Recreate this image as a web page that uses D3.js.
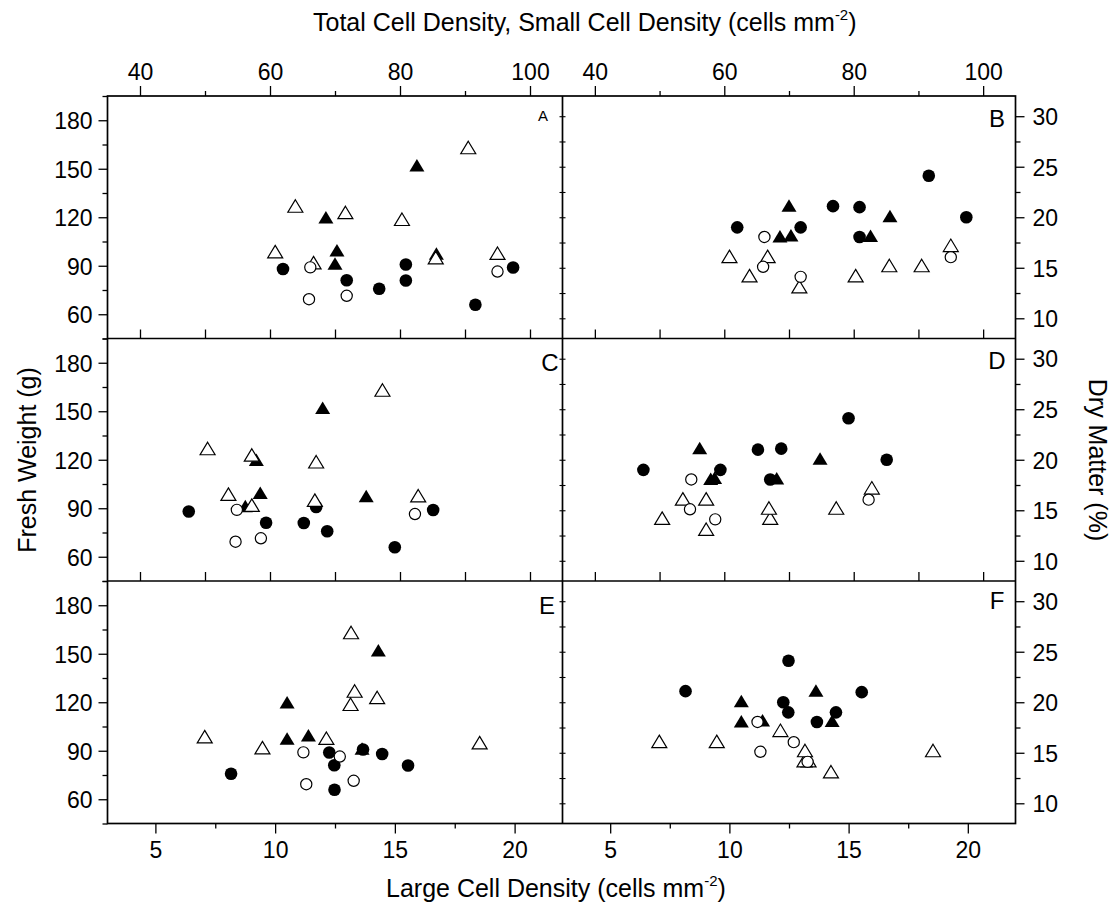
<!DOCTYPE html>
<html>
<head>
<meta charset="utf-8">
<script src="https://cdn.jsdelivr.net/npm/d3@7"></script>
<style>
  html, body { margin: 0; padding: 0; background: #fff; }
  svg { display: block; }
  text { font-family: "Liberation Sans", Arial, Helvetica, sans-serif; fill: #000; }
</style>
</head>
<body>
<svg id="chart" width="1117" height="908"></svg>
<script>
// ---- data: one entry per plant sample ----
// marker group: fc = filled circle, ft = filled triangle, oc = open circle, ot = open triangle
const group = ["fc","fc","fc","fc","fc","fc","fc",
               "ft","ft","ft","ft","ft",
               "oc","oc","oc","oc",
               "ot","ot","ot","ot","ot","ot","ot","ot"];
// total cell density (cells mm^-2)
const totalDensity = [62.0, 71.8, 76.8, 80.9, 80.9, 91.6, 97.4,
                      68.6, 70.3, 70.0, 82.6, 85.6,
                      66.2, 66.0, 71.8, 95.0,
                      60.8, 63.9, 66.7, 71.6, 80.3, 85.5, 90.5, 95.0];
// small cell density (cells mm^-2)
const smallDensity = [47.5, 59.4, 68.8, 65.2, 67.1, 79.2, 85.1,
                      57.9, 58.5, 56.2, 68.1, 74.8,
                      54.9, 54.7, 58.6, 82.3,
                      53.6, 50.4, 57.2, 57.2, 67.1, 66.9, 77.3, 82.8];
// large cell density (cells mm^-2)
const largeDensity = [14.47, 12.47, 8.16, 15.55, 13.67, 12.48, 12.26,
                      10.5, 11.39, 13.63, 14.31, 10.5,
                      11.18, 11.3, 13.28, 12.7,
                      7.06, 13.32, 9.47, 14.26, 13.15, 18.54, 13.17, 12.14];
// fresh weight (g)
const freshWeight = [88.0, 81.0, 75.8, 80.9, 90.8, 65.9, 88.9,
                     119.8, 99.5, 91.2, 152.0, 97.4,
                     89.0, 69.3, 71.4, 86.4,
                     98.6, 126.8, 91.8, 122.8, 118.6, 94.9, 163.0, 97.6];
// dry matter (%)
const dryMatter = [19.0, 19.0, 21.1, 21.0, 18.05, 24.1, 20.0,
                   18.1, 18.2, 21.15, 18.15, 20.1,
                   18.05, 15.1, 14.1, 16.05,
                   16.1, 14.2, 16.1, 13.1, 14.2, 15.2, 15.2, 17.2];

// ---- tick values ----
const fwTicks = [60, 90, 120, 150, 180];
const fwMinor = [45, 75, 105, 135, 165, 195];
const dmTicks = [10, 15, 20, 25, 30];
const dmMinor = [12.5, 17.5, 22.5, 27.5];
const densTicks = [40, 60, 80, 100];
const densMinor = [50, 70, 90];
const densInner = [40, 50, 60, 70, 80, 90, 100];
const largeTicks = [5, 10, 15, 20];
const largeMinor = [7.5, 12.5, 17.5];

// ---- layout ----
const colX = [107.5, 562.5, 1015.5];
const rowY = [96, 338.5, 581, 823.5];
const font = 23;
const titleFont = 25;

const svg = d3.select("#chart");

const xDensL = d3.scaleLinear().domain([35, 105]).range([colX[0], colX[1]]);
const xDensR = d3.scaleLinear().domain([35, 105]).range([colX[1], colX[2]]);
const xLargeL = d3.scaleLinear().domain([3, 22]).range([colX[0], colX[1]]);
const xLargeR = d3.scaleLinear().domain([3, 22]).range([colX[1], colX[2]]);
const yFW = r => d3.scaleLinear().domain([45, 195]).range([rowY[r + 1], rowY[r]]);
const yDM = r => d3.scaleLinear().domain([8, 32]).range([rowY[r + 1], rowY[r]]);

const panels = [
  { id: "A", row: 0, col: 0, xs: totalDensity, ys: freshWeight, x: xDensL,  y: yFW(0), letter: [543, 115], letterSize: 15 },
  { id: "B", row: 0, col: 1, xs: totalDensity, ys: dryMatter,   x: xDensR,  y: yDM(0), letter: [997, 118], letterSize: 24 },
  { id: "C", row: 1, col: 0, xs: smallDensity, ys: freshWeight, x: xDensL,  y: yFW(1), letter: [550, 362], letterSize: 24 },
  { id: "D", row: 1, col: 1, xs: smallDensity, ys: dryMatter,   x: xDensR,  y: yDM(1), letter: [997, 360], letterSize: 24 },
  { id: "E", row: 2, col: 0, xs: largeDensity, ys: freshWeight, x: xLargeL, y: yFW(2), letter: [547, 605], letterSize: 24 },
  { id: "F", row: 2, col: 1, xs: largeDensity, ys: dryMatter,   x: xLargeR, y: yDM(2), letter: [997, 600], letterSize: 24 }
];

function styleAxis(g, width) {
  g.select(".domain").remove();
  g.selectAll(".tick line").attr("stroke", "#000").attr("stroke-width", width || 1.3);
  g.selectAll(".tick text").style("font-size", font + "px");
}

// ---- markers ----
const triPath = "M0,-6.5L7.5,6L-7.5,6Z";
const drawOrder = ["fc", "ft", "ot", "oc"];

panels.forEach(p => {
  const g = svg.append("g").attr("class", "panel-" + p.id);
  const idx = d3.range(group.length).sort((a, b) => drawOrder.indexOf(group[a]) - drawOrder.indexOf(group[b]));
  idx.forEach(i => {
    const cx = p.x(p.xs[i]), cy = p.y(p.ys[i]);
    const kind = group[i];
    if (kind === "fc") {
      g.append("circle").attr("cx", cx).attr("cy", cy).attr("r", 6.3).attr("fill", "#000");
    } else if (kind === "oc") {
      g.append("circle").attr("cx", cx).attr("cy", cy).attr("r", 5.6)
        .attr("fill", "#fff").attr("stroke", "#000").attr("stroke-width", 1.2);
    } else if (kind === "ft") {
      g.append("path").attr("d", triPath).attr("transform", `translate(${cx},${cy})`).attr("fill", "#000");
    } else {
      g.append("path").attr("d", triPath).attr("transform", `translate(${cx},${cy})`)
        .attr("fill", "#fff").attr("stroke", "#000").attr("stroke-width", 1.2);
    }
  });
  svg.append("text").attr("x", p.letter[0]).attr("y", p.letter[1])
    .attr("text-anchor", "middle").attr("dominant-baseline", "central")
    .style("font-size", p.letterSize + "px").text(p.id);
});

// ---- axes ----
for (let r = 0; r < 3; r++) {
  const yl = yFW(r), yr = yDM(r);
  // left: fresh weight
  svg.append("g").attr("transform", `translate(${colX[0]},0)`)
    .call(d3.axisLeft(yl).tickValues(fwTicks).tickSize(9).tickPadding(6).tickFormat(d3.format("d")))
    .call(styleAxis).selectAll("text").attr("dy", "0.36em");
  svg.append("g").attr("transform", `translate(${colX[0]},0)`)
    .call(d3.axisLeft(yl).tickValues(fwMinor).tickSize(5).tickFormat(""))
    .call(styleAxis);
  // right: dry matter
  svg.append("g").attr("transform", `translate(${colX[2]},0)`)
    .call(d3.axisRight(yr).tickValues(dmTicks).tickSize(9).tickPadding(8).tickFormat(d3.format("d")))
    .call(styleAxis).selectAll("text").attr("dy", "0.36em");
  svg.append("g").attr("transform", `translate(${colX[2]},0)`)
    .call(d3.axisRight(yr).tickValues(dmMinor).tickSize(5).tickFormat(""))
    .call(styleAxis);
  // short crossing marks on the shared middle border
  svg.append("g").attr("transform", `translate(${colX[1] - 3},0)`)
    .call(d3.axisRight(yr).tickValues(dmTicks.concat(dmMinor)).tickSize(6).tickFormat(""))
    .call(styleAxis, 1.1);
}

// top axis: total / small cell density
[xDensL, xDensR].forEach(x => {
  svg.append("g").attr("transform", `translate(0,${rowY[0]})`)
    .call(d3.axisTop(x).tickValues(densTicks).tickSize(10).tickPadding(6).tickFormat(d3.format("d")))
    .call(styleAxis);
  svg.append("g").attr("transform", `translate(0,${rowY[0]})`)
    .call(d3.axisTop(x).tickValues(densMinor).tickSize(5).tickFormat(""))
    .call(styleAxis);
  // inward ticks along the bottom of rows 1 and 2
  [rowY[1], rowY[2]].forEach(yb => {
    svg.append("g").attr("transform", `translate(0,${yb})`)
      .call(d3.axisBottom(x).tickValues(densInner).tickSize(-9).tickFormat(""))
      .call(styleAxis);
  });
});

// bottom axis: large cell density
[xLargeL, xLargeR].forEach(x => {
  svg.append("g").attr("transform", `translate(0,${rowY[3]})`)
    .call(d3.axisBottom(x).tickValues(largeTicks).tickSize(10).tickPadding(8).tickFormat(d3.format("d")))
    .call(styleAxis);
  svg.append("g").attr("transform", `translate(0,${rowY[3]})`)
    .call(d3.axisBottom(x).tickValues(largeMinor).tickSize(5).tickFormat(""))
    .call(styleAxis);
});

// ---- panel frames ----
const frame = svg.append("g").attr("fill", "none").attr("stroke", "#000").attr("stroke-width", 1.7);
frame.append("rect").attr("x", colX[0]).attr("y", rowY[0])
  .attr("width", colX[2] - colX[0]).attr("height", rowY[3] - rowY[0]);
frame.append("line").attr("x1", colX[1]).attr("x2", colX[1]).attr("y1", rowY[0]).attr("y2", rowY[3]);
[rowY[1], rowY[2]].forEach(yb => {
  frame.append("line").attr("x1", colX[0]).attr("x2", colX[2]).attr("y1", yb).attr("y2", yb);
});

// ---- axis titles ----
function titleWithSup(x, y, main, sup, tail) {
  const el = svg.append("text").attr("x", x).attr("y", y).attr("text-anchor", "start")
    .style("font-size", titleFont + "px");
  el.append("tspan").text(main);
  el.append("tspan").attr("dy", -11).style("font-size", "15px").text(sup);
  el.append("tspan").attr("dy", 11).text(tail);
  return el;
}
titleWithSup(313, 31, "Total Cell Density, Small Cell Density (cells mm", "-2", ")");
titleWithSup(386, 897, "Large Cell Density (cells mm", "-2", ")");

svg.append("text").attr("transform", "translate(36,460) rotate(-90)")
  .attr("text-anchor", "middle").style("font-size", titleFont + "px").text("Fresh Weight (g)");
svg.append("text").attr("transform", "translate(1089,460) rotate(90)")
  .attr("text-anchor", "middle").style("font-size", titleFont + "px").text("Dry Matter (%)");
</script>
</body>
</html>
